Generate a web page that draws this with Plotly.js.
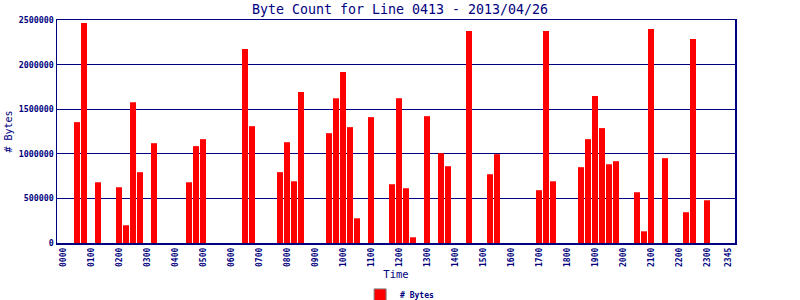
<!DOCTYPE html>
<html>
<head>
<meta charset="utf-8">
<script src="https://cdn.plot.ly/plotly-3.0.1.min.js"></script>
<style>html,body{margin:0;padding:0;background:#fff;}#chart{width:800px;height:300px;}</style>
</head>
<body>
<div id="chart"></div>
<script>
// Times (HHMM, 15-minute slots) that have traffic, and their byte counts
const barTimes = ["0030","0045","0115","0200","0215","0230","0245","0315",
  "0430","0445","0500","0630","0645","0745","0800","0815","0830",
  "0930","0945","1000","1015","1030","1100","1145","1200","1215","1230",
  "1300","1330","1345","1430","1515","1530","1700","1715","1730",
  "1830","1845","1900","1915","1930","1945","2030","2045","2100","2130",
  "2215","2230","2300"];
const byteCounts = [1355000,2466000,681000,625000,199000,1579000,794000,1119000,
  681000,1086000,1164000,2174000,1310000,794000,1130000,692000,1692000,
  1231000,1624000,1916000,1299000,277000,1411000,659000,1624000,614000,64000,
  1422000,1007000,861000,2377000,771000,996000,592000,2377000,692000,
  850000,1164000,1647000,1288000,883000,917000,569000,131000,2399000,951000,
  345000,2287000,479000];
const tickLabels = ["0000","0100","0200","0300","0400","0500","0600","0700","0800","0900",
  "1000","1100","1200","1300","1400","1500","1600","1700","1800","1900","2000",
  "2100","2200","2300","2345"];
const yTicks = [0,500000,1000000,1500000,2000000,2500000];

const slotOf = t => parseInt(t.slice(0,2),10)*4 + parseInt(t.slice(2),10)/15;
const xs = barTimes.map(slotOf);
const tickVals = tickLabels.map(slotOf);

const navy = '#000080';
const mono = 'DejaVu Sans Mono, monospace';

const data = [
  {type:'bar', x:xs, y:byteCounts, name:'# Bytes', showlegend:false,
   marker:{color:'#ff0000', line:{width:0}}, hoverinfo:'x+y'},
  {type:'bar', x:[null], y:[null], name:'# Bytes', showlegend:true,
   marker:{color:'#ff0000', line:{color:'#808080', width:1}}}
];

const layout = {
  width:800, height:300,
  margin:{l:57, r:65, t:20, b:57, pad:0},
  paper_bgcolor:'#ffffff', plot_bgcolor:'#ffffff',
  barmode:'overlay', bargap:0.143,
  title:{text:'Byte Count for Line 0413 - 2013/04/26', x:0.5, xanchor:'center', y:0.97, yanchor:'middle',
         font:{family:mono, size:13.3, color:navy}},
  xaxis:{range:[-0.86, 96], tickmode:'array', tickvals:tickVals, ticktext:tickLabels, automargin:false,
         tickangle:-90, tickfont:{family:mono, size:8, color:navy, weight:'bold'},
         showline:true, linecolor:navy, linewidth:1.5, mirror:true, showgrid:false, zeroline:false,
         ticks:'', title:{text:'Time', font:{family:mono, size:10.5, color:navy}, standoff:12}},
  yaxis:{range:[0,2500000], tickmode:'array', tickvals:yTicks, ticktext:yTicks.map(String), automargin:false,
         tickfont:{family:mono, size:8.3, color:navy, weight:'bold'},
         showline:true, linecolor:navy, linewidth:1.5, mirror:true, showgrid:true, gridcolor:navy, gridwidth:1,
         zeroline:false, ticks:'', ticklen:0,
         title:{text:'# Bytes', font:{family:mono, size:10, color:navy}, standoff:4}},
  showlegend:true,
  legend:{orientation:'h', x:0.4995, xanchor:'center', xref:'container', y:0.017, yanchor:'middle', yref:'container',
          font:{family:mono, size:8, color:navy, weight:'bold'}, bgcolor:'rgba(0,0,0,0)'}
};

Plotly.newPlot('chart', data, layout, {displayModeBar:false, staticPlot:true});
</script>
</body>
</html>
